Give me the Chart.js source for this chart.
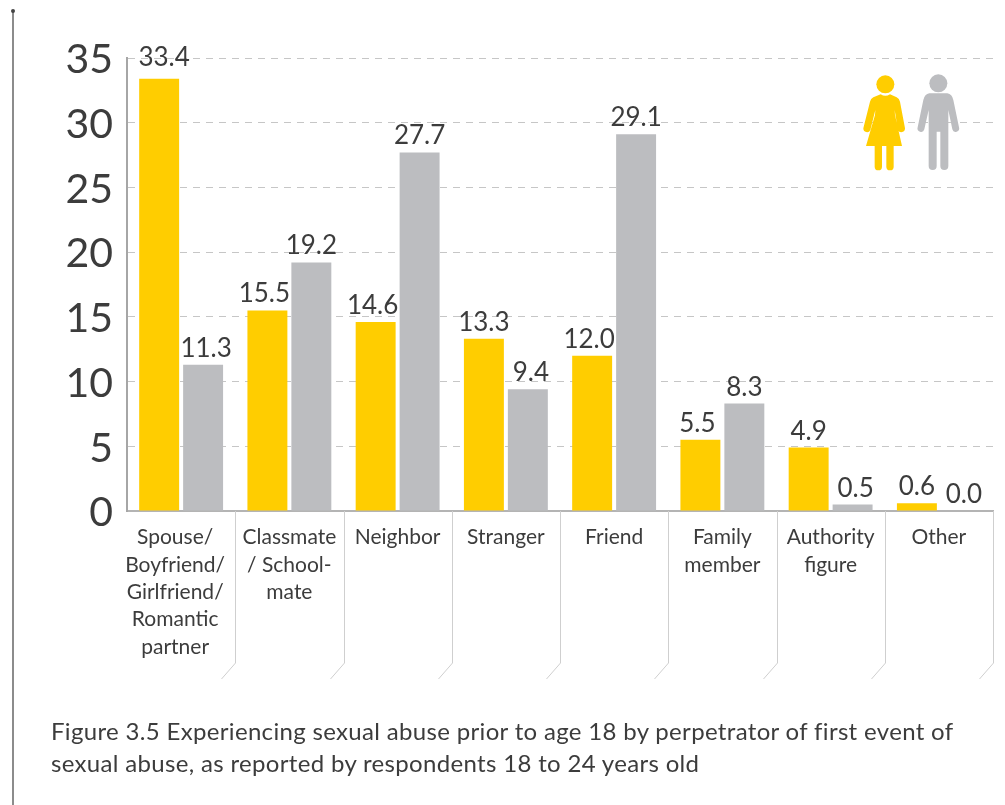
<!DOCTYPE html>
<html>
<head>
<meta charset="utf-8">
<title>Figure 3.5</title>
<script src="https://cdn.jsdelivr.net/npm/chart.js@4"></script>
<style>
    html, body { margin: 0; padding: 0; background: #fff; }
    #wrap { position: relative; width: 1005px; height: 805px; overflow: hidden; }
    #rule { position: absolute; left: 12px; top: 11px; width: 2px; height: 794px; background: #8c8c8c; }
    #dot { position: absolute; left: 11px; top: 9px; width: 4px; height: 4px; border-radius: 2px; background: #444; }
    #icons { position: absolute; left: 840px; top: 50px; }
    #caption {
        position: absolute; left: 51px; top: 715px; width: 930px;
        font: 24px/32px Lato, sans-serif; color: #3c3c3c; letter-spacing: 0.33px;
    }
</style>
</head>
<body>
<div id="wrap">
    <canvas id="chart" width="1005" height="805"></canvas>
    <div id="rule"></div>
    <div id="dot"></div>
    <svg id="icons" width="165" height="140" viewBox="0 0 495 420">
        <g fill="#ffcd00" stroke="none">
            <circle cx="136" cy="103" r="27"/>
            <path d="M122 133 Q136 142 150 133 L170 142 Q178 146 180 155 L195 235 a11 11 0 0 1 -21 5 L164 180 L165 195 L186 288 L78 288 L105 195 L106 180 L91 240 a11 11 0 0 1 -21 -5 L90 155 Q92 146 100 142 Z"/>
            <path d="M104 280 h22 v70 a11 11 0 0 1 -22 0 Z"/>
            <path d="M139 280 h22 v70 a11 11 0 0 1 -22 0 Z"/>
        </g>
        <g fill="#bcbdc0" stroke="none">
            <circle cx="295" cy="100" r="27"/>
            <path d="M268 130 L322 130 Q336 132 340 150 L357 232 a10 10 0 0 1 -20 6 L325 180 L325 348 a12 12 0 0 1 -24 0 L301 245 L290 245 L290 348 a12 12 0 0 1 -24 0 L266 180 L253 238 a10 10 0 0 1 -20 -6 L250 150 Q254 132 268 130 Z"/>
        </g>
    </svg>
    <div id="caption">Figure 3.5 Experiencing sexual abuse prior to age 18 by perpetrator of first event of<br>sexual abuse, as reported by respondents 18 to 24 years old</div>
</div>
<script>
var categories = [
    ['Spouse/', 'Boyfriend/', 'Girlfriend/', 'Romantic', 'partner'],
    ['Classmate', '/ School-', 'mate'],
    'Neighbor',
    'Stranger',
    'Friend',
    ['Family', 'member'],
    ['Authority', 'figure'],
    'Other'
];
var femaleValues = [33.4, 15.5, 14.6, 13.3, 12.0, 5.5, 4.9, 0.6];
var maleValues = [11.3, 19.2, 27.7, 9.4, 29.1, 8.3, 0.5, 0.0];

var textColor = '#3c3c3c';

// value labels above the bars and the bracket lines under the x axis
var extras = {
    id: 'extras',
    beforeDraw: function(chart) {
        // first category label sits a bit left of its tick in the original,
        // and the big y labels sit a little under their gridlines
        var xItems = chart.scales.x.getLabelItems(chart.chartArea);
        if (xItems.length && !xItems[0].moved) {
            xItems[0].options.translation[0] -= 6;
            xItems[0].moved = true;
        }
        chart.scales.y.getLabelItems(chart.chartArea).forEach(function(item) {
            if (!item.moved) {
                item.options.translation[1] += 2;
                item.moved = true;
            }
        });
    },
    afterDatasetsDraw: function(chart) {
        var ctx = chart.ctx;
        var x = chart.scales.x;
        var bottom = chart.chartArea.bottom;
        var step = x.getPixelForTick(1) - x.getPixelForTick(0);

        ctx.save();
        ctx.strokeStyle = '#cfcfcf';
        ctx.lineWidth = 1;
        categories.forEach(function(c, i) {
            var px = Math.round(x.getPixelForTick(i) + step / 2) + 0.5;
            ctx.beginPath();
            ctx.moveTo(px, bottom);
            ctx.lineTo(px, bottom + 152);
            ctx.lineTo(px - 14, bottom + 168);
            ctx.stroke();
        });

        ctx.fillStyle = textColor;
        ctx.font = '26px Lato';
        ctx.textAlign = 'center';
        ctx.textBaseline = 'alphabetic';
        chart.data.datasets.forEach(function(ds, d) {
            var other = chart.data.datasets[1 - d].data;
            chart.getDatasetMeta(d).data.forEach(function(bar, i) {
                // the tallest bar's label is clamped up against the top gridline
                var clamped = ds.data[i] > 33;
                var y = clamped ? chart.chartArea.top + 8 : bar.y - 8;
                // labels next to a taller bar lean away from it
                var nudge = 0;
                if (clamped) nudge = 5;
                else if (other[i] > ds.data[i]) nudge = d === 0 ? -3 : 3;
                ctx.fillText(ds.data[i].toFixed(1), bar.x + nudge, y);
            });
        });
        ctx.restore();
    }
};

new Chart(document.getElementById('chart'), {
    type: 'bar',
    data: {
        labels: categories,
        datasets: [
            { label: 'Female', data: femaleValues, backgroundColor: '#ffcd00', categoryPercentage: 0.812, barPercentage: 0.909 },
            { label: 'Male', data: maleValues, backgroundColor: '#bcbdc0', categoryPercentage: 0.812, barPercentage: 0.909 }
        ]
    },
    plugins: [extras],
    options: {
        responsive: false,
        animation: false,
        layout: { padding: { top: 58, right: 12, left: 0, bottom: 0 } },
        plugins: { legend: { display: false }, title: { display: false }, tooltip: { enabled: false } },
        scales: {
            x: {
                afterFit: function(scale) { scale.height = 294; },
                grid: { display: false },
                border: { color: '#b4b4b4', width: 2 },
                ticks: {
                    color: textColor,
                    font: { family: 'Lato', size: 21, lineHeight: 1.3 },
                    maxRotation: 0,
                    autoSkip: false,
                    padding: 5
                }
            },
            y: {
                min: 0,
                max: 35,
                afterFit: function(scale) { scale.width = 127; },
                grid: { color: '#c6c6c6', drawTicks: false, tickLength: 0 },
                border: { color: '#a6a6a6', width: 2, dash: [7, 6] },
                ticks: {
                    stepSize: 5,
                    color: textColor,
                    font: { family: 'Lato', size: 41, weight: 400 },
                    padding: 14
                }
            }
        }
    }
});
</script>
</body>
</html>
